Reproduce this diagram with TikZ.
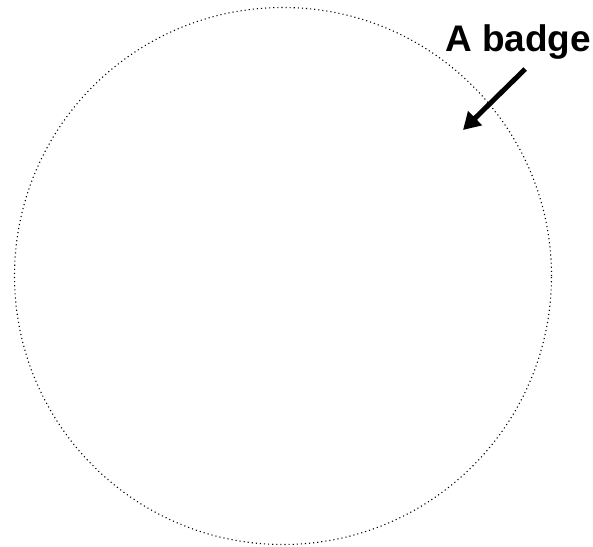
\documentclass[tikz,border=0pt]{standalone}
\usepackage{fontspec}
\setmainfont{Liberation Sans}
\usetikzlibrary{arrows.meta,calc,positioning}
\tikzset{
  badgering/.style={
    circle, draw=black, line width=1.1pt, dash pattern=on 1.1pt off 3pt,
    minimum size=537pt, inner sep=0pt
  },
  callout/.style={font=\fontsize{37}{40}\selectfont\bfseries, inner sep=0pt},
  pointer/.style={-{Triangle[length=17pt,width=19pt]}, line width=5pt, draw=black}
}
\begin{document}
\begin{tikzpicture}[x=1pt,y=1pt]
    \useasboundingbox (0,0) rectangle (593,546);
    \node[badgering] (badge) at (283,270) {};
    \node[callout,anchor=base west] (label) at (445,494) {A badge};
    \coordinate (spot) at (463,416);
    \draw[pointer] ($(label.south)+(7,-9)$) -- (spot);
  \end{tikzpicture}
\end{document}
